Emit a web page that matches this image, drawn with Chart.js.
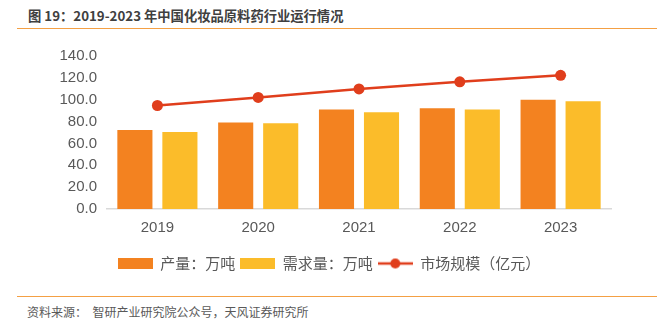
<!DOCTYPE html>
<html>
<head>
<meta charset="utf-8">
<script src="https://cdn.jsdelivr.net/npm/chart.js@4"></script>
<style>
  body { margin: 0; width: 669px; height: 327px; background: #fff; position: relative; overflow: hidden; }
  #title { position: absolute; left: 28px; top: 6px; font: bold 13.3px "Noto Sans CJK SC", sans-serif; color: #404040; white-space: nowrap; }
  .rule { position: absolute; left: 17px; width: 640px; height: 0; border-top: 1.5px solid #F4A044; }
  #source { position: absolute; left: 27px; top: 303px; font: 12px "Noto Sans CJK SC", sans-serif; color: #595959; white-space: nowrap; }
  #wrap { position: absolute; left: 0; top: 0; width: 669px; height: 327px; }
</style>
</head>
<body>
<div id="title">图 19：2019-2023 年中国化妆品原料药行业运行情况</div>
<div class="rule" style="top:28px"></div>
<div class="rule" style="top:296px"></div>
<div id="source">资料来源：&nbsp;&nbsp;智研产业研究院公众号，天风证券研究所</div>
<div id="wrap"><canvas id="chart"></canvas></div>
<script>
// data
let years = ['2019', '2020', '2021', '2022', '2023'];
let production = [72.3, 79.1, 91.0, 92.2, 99.9];   // 产量：万吨
let demand = [70.5, 78.5, 88.5, 91.0, 98.7];       // 需求量：万吨
let market = [94.7, 102.1, 109.9, 116.4, 122.3];   // 市场规模（亿元）

let orange = '#F38220';
let yellow = '#FBBC2A';
let red = '#E03E1C';

// little pictures used as legend markers
function boxIcon(color){
  let c = document.createElement('canvas');
  c.width = 35; c.height = 11;
  let g = c.getContext('2d');
  g.fillStyle = color;
  g.fillRect(0, 0, 35, 11);
  return c;
}
function lineIcon(color){
  let c = document.createElement('canvas');
  c.width = 35; c.height = 12;
  let g = c.getContext('2d');
  g.strokeStyle = color;
  g.lineWidth = 2.5;
  g.beginPath(); g.moveTo(0, 6); g.lineTo(35, 6); g.stroke();
  g.fillStyle = color;
  g.beginPath(); g.arc(17.5, 6, 5, 0, Math.PI * 2); g.fill();
  return c;
}

let icons = [boxIcon(orange), boxIcon(yellow), lineIcon(red)];

Chart.defaults.font.family = '"Liberation Sans", "Noto Sans CJK SC", sans-serif';
Chart.defaults.color = '#595959';

new Chart(document.getElementById('chart'), {
  type: 'bar',
  data: {
    labels: years,
    datasets: [
      {
        type: 'line',
        label: '市场规模（亿元）',
        data: market,
        borderColor: red,
        backgroundColor: red,
        borderWidth: 2.5,
        pointRadius: 5.5,
        pointBackgroundColor: red,
        pointBorderWidth: 0,
        order: 0
      },
      {
        label: '产量：万吨',
        data: production,
        backgroundColor: orange,
        categoryPercentage: 0.893,
        barPercentage: 0.78,
        order: 1
      },
      {
        label: '需求量：万吨',
        data: demand,
        backgroundColor: yellow,
        categoryPercentage: 0.893,
        barPercentage: 0.78,
        order: 2
      }
    ]
  },
  options: {
    responsive: true,
    maintainAspectRatio: false,
    animation: false,
    layout: { padding: { left: 47, right: 58, top: 56, bottom: 46 } },
    plugins: {
      tooltip: { enabled: false },
      legend: {
        position: 'bottom',
        labels: {
          usePointStyle: true,
          pointStyleWidth: 35,
          padding: 5,
          color: '#595959',
          font: { size: 15, family: '"Noto Sans CJK SC", sans-serif' },
          generateLabels: function(chart){
            let order = [1, 2, 0];
            return order.map((ds, i) => ({
              text: chart.data.datasets[ds].label,
              pointStyle: icons[i],
              fillStyle: 'transparent',
              strokeStyle: 'transparent',
              lineWidth: 0,
              fontColor: '#595959',
              datasetIndex: ds
            }));
          }
        }
      }
    },
    scales: {
      x: {
        grid: { display: false, drawTicks: false },
        border: { display: true, color: '#D9D9D9', width: 1.5 },
        ticks: { padding: 10, font: { size: 15 }, color: '#595959' },
        afterFit: function(scale){ scale.height = 42; }
      },
      y: {
        min: 0,
        max: 140,
        grid: { display: false, drawTicks: false },
        border: { display: false },
        ticks: {
          stepSize: 20,
          padding: 10,
          font: { size: 15 },
          color: '#595959',
          callback: v => v.toFixed(1)
        },
        afterFit: function(scale){ scale.width = 60; }
      }
    }
  }
});
</script>
</body>
</html>
